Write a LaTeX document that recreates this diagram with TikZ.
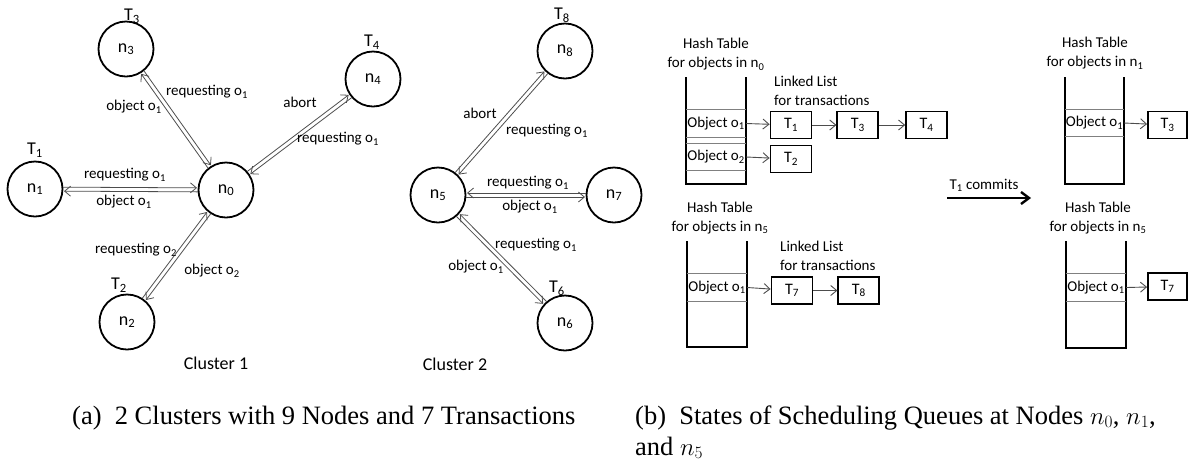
\documentclass[tikz,border=0pt]{standalone}
\usepackage{fontspec}
\setmainfont{Liberation Serif}
\newfontfamily\calib{Carlito}
\usetikzlibrary{arrows.meta,positioning,calc}
\definecolor{linegray}{HTML}{4D4D4D}
\definecolor{rowgray}{HTML}{808080}
\newcommand{\labfont}{\calib\fontsize{15}{19}\selectfont}
\newcommand{\sitefont}{\calib\fontsize{18}{20}\selectfont}
\tikzset{site/.style={circle,draw,line width=1.8pt,minimum size=55pt,inner sep=0pt,font=\sitefont},
  txn/.style={inner sep=0pt,font=\sitefont},
  lab/.style={inner sep=0pt,font=\labfont},
  msg/.style={draw=linegray,line width=0.8pt,-{Straight Barb[length=6pt,width=10pt]},shorten <=28pt,shorten >=29pt},
  qbox/.style={draw,line width=1.8pt,minimum width=41pt,minimum height=27pt,inner sep=0pt,font=\calib\fontsize{16}{18}\selectfont},
  slot/.style={minimum width=60pt,minimum height=27pt,inner sep=0pt,font=\labfont},
  rowline/.style={draw=rowgray,line width=0.8pt},
  wall/.style={line width=2.2pt},
  link/.style={draw=linegray,line width=0.9pt,-{Straight Barb[length=6pt,width=10pt]}},
  commit/.style={line width=2.4pt,-{Straight Barb[length=8pt,width=12pt]}},
  captext/.style={inner sep=0pt,anchor=base west,font=\fontsize{26.5}{31}\selectfont}}
% message pairs: left or right of the direction of travel
\newcommand{\msgl}[2]{\draw[msg] ($(#1)!2pt!90:(#2)$) -- ($(#2)!2pt!-90:(#1)$);}
\newcommand{\msgr}[2]{\draw[msg] ($(#1)!2pt!-90:(#2)$) -- ($(#2)!2pt!90:(#1)$);}
\begin{document}
\begin{tikzpicture}[x=1pt,y=-1pt,node distance=24pt]
\useasboundingbox (0,0) rectangle (1189,467);
\node[site] (n0) at (226,190) {n\textsubscript{0}};
\node[site] (n1) at (35,189) {n\textsubscript{1}};
\node[site] (n2) at (127,322) {n\textsubscript{2}};
\node[site] (n3) at (126,49) {n\textsubscript{3}};
\node[site] (n4) at (373,79) {n\textsubscript{4}};
\node[txn] (tn1) at (35,150) {T\textsubscript{1}};
\node[txn] (tn2) at (119,285) {T\textsubscript{2}};
\node[txn] (tn3) at (132,16) {T\textsubscript{3}};
\node[txn] (tn4) at (372,42) {T\textsubscript{4}};
\msgl{n1}{n0} \msgl{n0}{n1}
\msgl{n3}{n0} \msgl{n0}{n3}
\msgl{n0}{n4} \msgl{n4}{n0}
\msgl{n2}{n0} \msgl{n0}{n2}
\node[lab] (r10) at (125,175) {requesting o\textsubscript{1}};
\node[lab] (o10) at (124,202) {object o\textsubscript{1}};
\node[lab] (r30) at (207,92) {requesting o\textsubscript{1}};
\node[lab] (o30) at (134,107) {object o\textsubscript{1}};
\node[lab] (a40) at (300,102) {abort};
\node[lab] (r40) at (338,139) {requesting o\textsubscript{1}};
\node[lab] (r20) at (136,250) {requesting o\textsubscript{2}};
\node[lab] (o20) at (212,271) {object o\textsubscript{2}};
\node[txn] (cl1) at (216,363) {Cluster 1};
\node[site] (n5) at (438,195) {n\textsubscript{5}};
\node[site] (n6) at (565,323) {n\textsubscript{6}};
\node[site] (n7) at (614,195) {n\textsubscript{7}};
\node[site] (n8) at (565,51) {n\textsubscript{8}};
\node[txn] (tn6) at (557,288) {T\textsubscript{6}};
\node[txn] (tn8) at (562,15) {T\textsubscript{8}};
\msgl{n5}{n8} \msgl{n8}{n5}
\msgr{n7}{n5} \msgr{n5}{n7}
\msgr{n6}{n5} \msgr{n5}{n6}
\node[lab] (a58) at (480,113) {abort};
\node[lab] (r58) at (547,131) {requesting o\textsubscript{1}};
\node[lab] (r57) at (528,183) {requesting o\textsubscript{1}};
\node[lab] (o57) at (530,207) {object o\textsubscript{1}};
\node[lab] (r56) at (536,245) {requesting o\textsubscript{1}};
\node[lab] (o56) at (476,267) {object o\textsubscript{1}};
\node[txn] (cl2) at (455,364) {Cluster 2};
\node[lab,align=center] (ha) at (716,54.5) {Hash Table\\for objects in n\textsubscript{0}};
\draw[wall] (686,77) -- (686,184) -- (746,184) -- (746,77);
\node[slot] (sa1) at (716,123.5) {Object o\textsubscript{1}};
\node[slot] (sa2) at (716,157) {Object o\textsubscript{2}};
\draw[rowline] (sa1.north west) -- (sa1.north east) (sa1.south west) -- (sa1.south east);
\draw[rowline] (sa2.north west) -- (sa2.north east) (sa2.south west) -- (sa2.south east);
\node[lab,align=left,anchor=west] (lla) at (774,90.5) {Linked List\\for transactions};
\node[qbox] (qa1) at (791,125) {T\textsubscript{1}};
\node[qbox,right=of qa1] (qa3) {T\textsubscript{3}};
\node[qbox,right=26pt of qa3] (qa4) {T\textsubscript{4}};
\node[qbox] (qa2) at (791,159) {T\textsubscript{2}};
\draw[link] (sa1.east) -- (qa1); \draw[link] (qa1) -- (qa3); \draw[link] (qa3) -- (qa4);
\draw[link] (sa2.east) -- (qa2);
\node[lab,align=center] (hb) at (720,218) {Hash Table\\for objects in n\textsubscript{5}};
\draw[wall] (687,241) -- (687,347) -- (747,347) -- (747,241);
\node[slot] (sb1) at (717,287.5) {Object o\textsubscript{1}};
\draw[rowline] (sb1.north west) -- (sb1.north east) (sb1.south west) -- (sb1.south east);
\node[lab,align=left,anchor=west] (llb) at (780,255.5) {Linked List\\for transactions};
\node[qbox] (qb7) at (792,290.5) {T\textsubscript{7}};
\node[qbox,right=of qb7] (qb8) {T\textsubscript{8}};
\draw[link] (sb1.east) -- (qb7); \draw[link] (qb7) -- (qb8);
\coordinate (cs) at (947,198);
\coordinate (ce) at (1031,198);
\draw[commit] (cs) -- (ce);
\node[lab] (cm) at (984,185) {T\textsubscript{1} commits};
\node[lab,align=center] (hc) at (1095,53.5) {Hash Table\\for objects in n\textsubscript{1}};
\draw[wall] (1065,77) -- (1065,184) -- (1124,184) -- (1124,77);
\node[slot,minimum width=59pt] (sc1) at (1094.5,123) {Object o\textsubscript{1}};
\draw[rowline] (sc1.north west) -- (sc1.north east) (sc1.south west) -- (sc1.south east);
\node[qbox,minimum width=39pt] (qc3) at (1167.5,125) {T\textsubscript{3}};
\draw[link] (sc1.east) -- (qc3);
\node[lab,align=center] (hd) at (1098,218) {Hash Table\\for objects in n\textsubscript{5}};
\draw[wall] (1066,241) -- (1066,348) -- (1126,348) -- (1126,241);
\node[slot] (sd1) at (1096,287.5) {Object o\textsubscript{1}};
\draw[rowline] (sd1.north west) -- (sd1.north east) (sd1.south west) -- (sd1.south east);
\node[qbox,minimum width=39pt] (qd7) at (1167.5,286.5) {T\textsubscript{7}};
\draw[link] (sd1.east) -- (qd7);
\node[captext] (capa) at (72,424) {(a)\enspace 2 Clusters with 9 Nodes and 7 Transactions};
\node[captext] (capb) at (635,424) {(b)\enspace States of Scheduling Queues at Nodes $n_0$, $n_1$,};
\node[captext] (capc) at (635,455) {and $n_5$};
\end{tikzpicture}
\end{document}
